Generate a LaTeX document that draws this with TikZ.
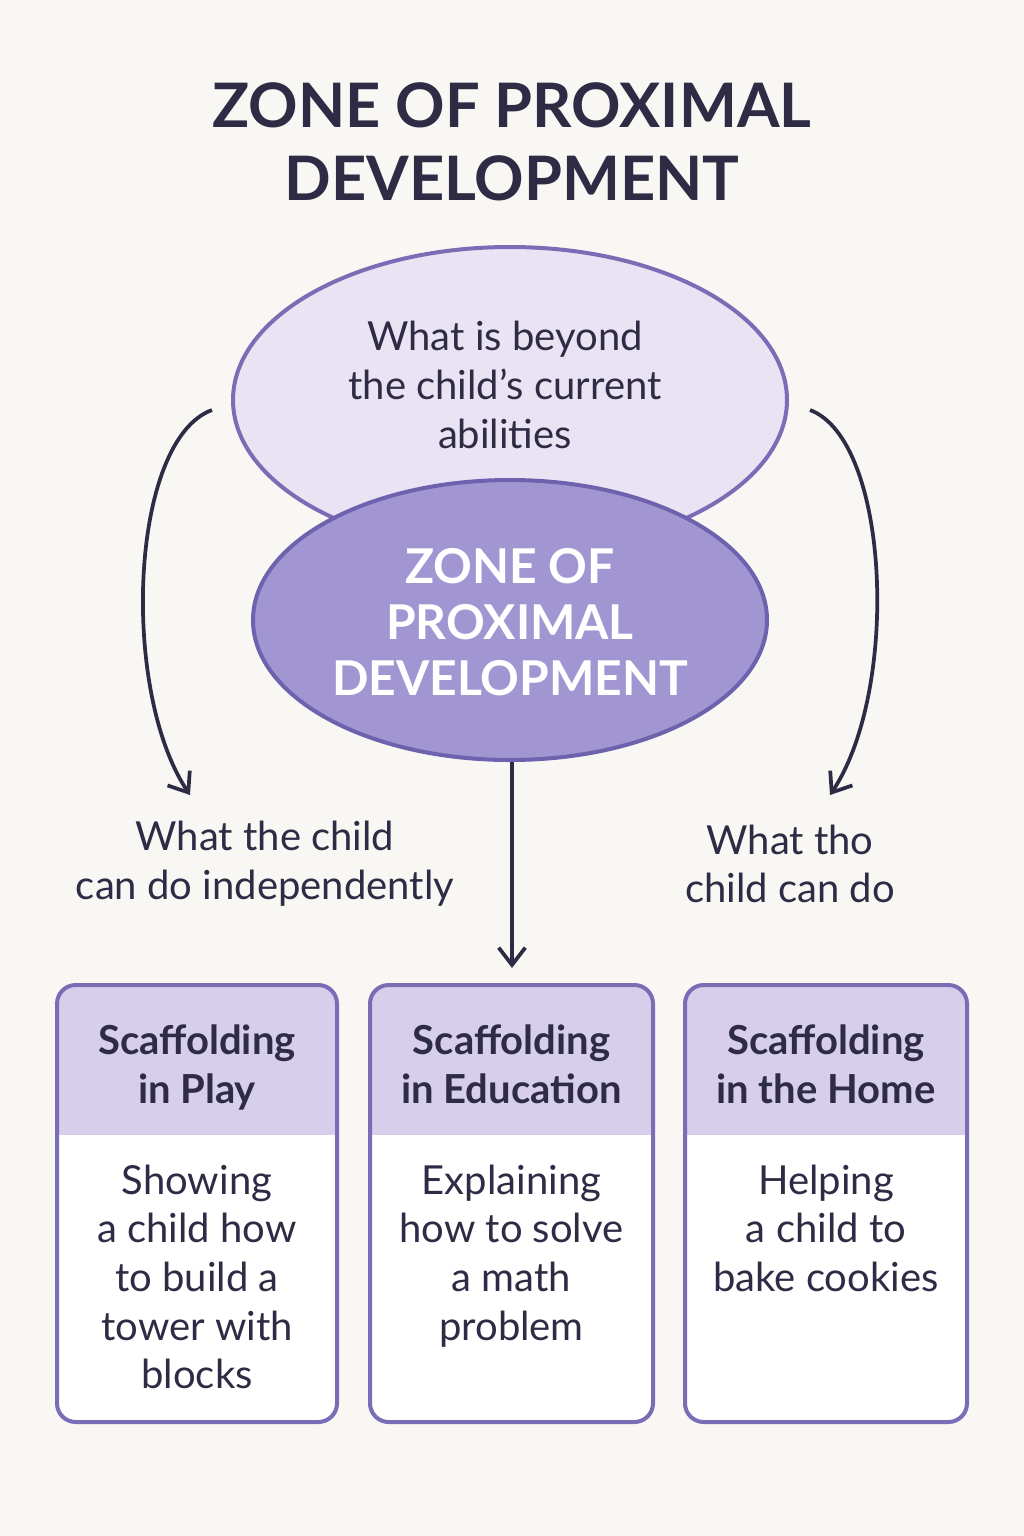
\documentclass[tikz,border=0pt]{standalone}
\usepackage{fontspec}
\setmainfont{Lato}
\usetikzlibrary{arrows.meta}
\definecolor{bg}{HTML}{F9F7F3}
\definecolor{ink}{HTML}{2E2B45}
\definecolor{topfill}{HTML}{E9E3F3}
\definecolor{edge}{HTML}{7A6DB5}
\definecolor{midfill}{HTML}{A196D2}
\definecolor{midedge}{HTML}{6E62AE}
\definecolor{head}{HTML}{D7CEEC}
\begin{document}
\begin{tikzpicture}[x=0.75pt,y=-0.75pt,
  txt/.style={text=ink,font=\fontsize{30}{36.5}\selectfont,align=center},
  htxt/.style={text=ink,font=\fontsize{30}{36.5}\selectfont\bfseries,align=center},
  arr/.style={ink,line width=2.8pt,-{Straight Barb[length=13pt,width=20pt]}}]
\useasboundingbox (0,0) rectangle (1024,1536);
\fill[bg] (0,0) rectangle (1024,1536);
\node[text=ink,font=\fontsize{46}{55}\selectfont\bfseries,align=center] (title) at (512,142) {ZONE OF PROXIMAL\\DEVELOPMENT};
\draw[edge,fill=topfill,line width=3pt] (510,400) ellipse [x radius=277,y radius=153];
\node[txt] (beyond) at (505,385) {What is beyond\\the child’s current\\abilities};
\draw[midedge,fill=midfill,line width=3pt] (510,620) ellipse [x radius=257,y radius=140];
\node[text=white,font=\fontsize{36}{42}\selectfont\bfseries,align=center] (zpd) at (510,622) {ZONE OF\\PROXIMAL\\DEVELOPMENT};
\coordinate (ls) at (212,410); \coordinate (le) at (190,795);
\coordinate (rs) at (810,410); \coordinate (re) at (830,795);
\coordinate (cs) at (512,762); \coordinate (ce) at (512,968);
\draw[arr] (ls) .. controls (130,440) and (120,690) .. (le);
\draw[arr] (rs) .. controls (890,440) and (900,690) .. (re);
\draw[arr] (cs) -- (ce);
\node[txt] (indep) at (265,864) {What the child\\can do independently};
\node[txt] (cando) at (790,864) {What tho\\child can do};
\foreach \i/\xa/\xb/\h/\b in {
  1/57/337/{Scaffolding\\in Play}/{Showing\\a child how\\to build a\\tower with\\blocks},
  2/370/653/{Scaffolding\\in Education}/{Explaining\\how to solve\\a math\\problem},
  3/685/967/{Scaffolding\\in the Home}/{Helping\\a child to\\bake cookies}}{
  \begin{scope}
  \clip[rounded corners=14pt] (\xa,985) rectangle (\xb,1422);
  \fill[white] (\xa,985) rectangle (\xb,1422);
  \fill[head] (\xa,985) rectangle (\xb,1135);
  \end{scope}
  \draw[edge,line width=3pt,rounded corners=14pt] (\xa,985) rectangle (\xb,1422);
  \node[htxt,anchor=north] (h\i) at ({(\xa+\xb)/2},1020) {\h};
  \node[txt,anchor=north] (b\i) at ({(\xa+\xb)/2},1160) {\b};
}
\end{tikzpicture}
\end{document}
